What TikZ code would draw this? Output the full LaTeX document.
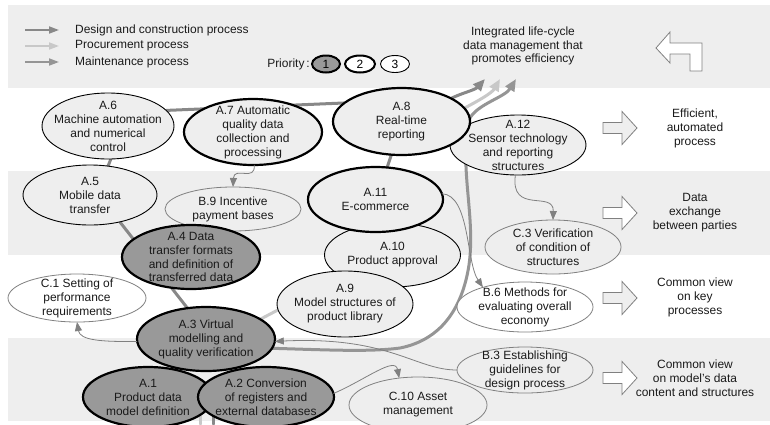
\documentclass[tikz,border=0pt]{standalone}
\usepackage{fontspec}
\setmainfont{Liberation Sans}
\usetikzlibrary{shapes.geometric,arrows.meta}
\pgfdeclarelayer{bands}
\pgfdeclarelayer{lines}
\pgfsetlayers{bands,lines,main}
\definecolor{band}{HTML}{EEEEEE}
\definecolor{pone}{HTML}{999999}
\definecolor{cdes}{HTML}{888888}
\definecolor{cpro}{HTML}{C8C8C8}
\definecolor{cmai}{HTML}{959595}
\definecolor{thinc}{HTML}{808080}
\definecolor{txtc}{HTML}{1A1A1A}
\tikzset{
  bubble/.style={ellipse, inner sep=0pt, outer sep=0pt},
  pr1/.style={bubble, draw=black, line width=2.2bp, fill=pone},
  pr2/.style={bubble, draw=black, line width=2.2bp, fill=band},
  pr3/.style={bubble, draw=black, line width=0.9bp, fill=band},
  bsub/.style={bubble, draw=thinc, line width=0.8bp, fill=band},
  bsubw/.style={bubble, draw=thinc, line width=0.8bp, fill=white},
  txt/.style={inner sep=0pt, align=center, text=txtc, font=\fontsize{12}{14}\selectfont},
  flow/.style={line width=3bp, line cap=round},
  flowtip/.style={-{Triangle[length=12bp,width=10bp]}},
  thinarrow/.style={draw=thinc, line width=0.8bp, -{Triangle[length=9bp,width=7bp]}},
  blockarrow/.style={draw=thinc, line width=0.8bp},
  legarrow/.style={line width=1.8bp, -{Triangle[length=10bp,width=7bp]}},
}
\newcommand\mybub[7]{%
  \node[#1, minimum width=#5*2bp, minimum height=#6*2bp] (#2) at (#3,#4) {};
  \node[txt] (#2t) at (#2.center) {#7};}
\newcommand\rblock[2]{%
  \draw[blockarrow, fill=#2] (603,#1-5.5) -- (622,#1-5.5) -- (622,#1-16.5) -- (637,#1)
    -- (622,#1+16.5) -- (622,#1+5.5) -- (603,#1+5.5) -- cycle;}
\begin{document}
\begin{tikzpicture}[x=1bp,y=-1bp]
\useasboundingbox (0,0) rectangle (770,424);
\begin{pgfonlayer}{bands}
  \fill[white] (0,0) rectangle (770,424);
  \fill[band] (8,5) rectangle (770,88);
  \fill[band] (8,171) rectangle (770,255);
  \fill[band] (8,338) rectangle (770,421);
\end{pgfonlayer}

% legend
\coordinate (l1s) at (25,30); \coordinate (l1e) at (59,30);
\coordinate (l2s) at (25,46); \coordinate (l2e) at (59,46);
\coordinate (l3s) at (25,62); \coordinate (l3e) at (59,62);
\draw[legarrow, cdes] (l1s) -- (l1e);
\draw[legarrow, cpro] (l2s) -- (l2e);
\draw[legarrow, cmai] (l3s) -- (l3e);
\node[txt, anchor=west] (lg1) at (75,30) {Design and construction process};
\node[txt, anchor=west] (lg2) at (75,46) {Procurement process};
\node[txt, anchor=west] (lg3) at (75,62) {Maintenance process};
\node[txt, anchor=east] (prio) at (310,64) {Priority\,:};
\node[pr1, line width=2bp, minimum width=28bp, minimum height=17bp, font=\fontsize{12}{14}\selectfont] (p1) at (326,64) {1};
\node[pr2, fill=white, line width=2bp, minimum width=30bp, minimum height=17bp, font=\fontsize{12}{14}\selectfont] (p2) at (360,64) {2};
\node[pr3, fill=white, minimum width=29bp, minimum height=17bp, font=\fontsize{12}{14}\selectfont] (p3) at (395,64) {3};

\node[txt, font=\fontsize{12}{13.5}\selectfont] (goal) at (523,46) {Integrated life-cycle\\data management that\\promotes efficiency};
\draw[blockarrow, fill=white] (656,48) -- (670,32) -- (670,43) -- (702,43) -- (702,71)
  -- (690,71) -- (690,54) -- (670,54) -- (670,63) -- cycle;

% right column
\rblock{128}{band}
\rblock{213}{white}
\rblock{298}{band}
\rblock{378}{white}
\node[txt] (r1) at (695,128) {Efficient,\\automated\\process};
\node[txt] (r2) at (695,213) {Data\\exchange\\between parties};
\node[txt] (r3) at (695,297) {Common view\\on key\\processes};
\node[txt] (r4) at (695,378) {Common view\\on model’s data\\content and structures};

% bubbles
\mybub{pr3}{a6}{108}{126}{66}{33}{A.6\\Machine automation\\and numerical\\control}
\mybub{pr2}{a7}{253}{132}{69}{33}{A.7 Automatic\\quality data\\collection and\\processing}
\mybub{pr3}{a12}{518}{145}{68}{30}{A.12\\Sensor technology\\and reporting\\structures}
\mybub{pr2}{a8}{401.5}{121.5}{68.5}{33.5}{A.8\\Real-time\\reporting}
\mybub{pr3}{a5}{90}{195}{67}{30}{A.5\\Mobile data\\transfer}
\mybub{bsub}{b9}{233}{209}{68}{22}{B.9 Incentive\\payment bases}
\mybub{pr3}{a10}{392.5}{255}{68}{32}{A.10\\Product approval}
\mybub{pr2}{a11}{375.5}{199.5}{67.5}{32.5}{A.11\\E-commerce}
\mybub{pr3}{a9}{345}{304}{68}{33}{A.9\\Model structures of\\product library}
\mybub{pr1}{a4}{191}{257}{69}{32}{A.4 Data\\transfer formats\\and definition of\\transferred data}
\mybub{bsubw}{c1}{77}{298}{69}{24}{C.1 Setting of\\performance\\requirements}
\mybub{pr1}{a3}{206}{339}{69}{32}{A.3 Virtual\\modelling and\\quality verification}
\mybub{pr1}{a1}{148}{397}{65}{30}{A.1\\Product data\\model definition}
\mybub{pr1}{a2}{266}{397}{68}{30}{A.2 Conversion\\of registers and\\external databases}
\mybub{bsub}{c3}{553}{247}{68}{27}{C.3 Verification\\of condition of\\structures}
\mybub{bsubw}{b6}{525}{307}{68}{25}{B.6 Methods for\\evaluating overall\\economy}
\mybub{bsub}{b3}{525}{370}{68}{23}{B.3 Establishing\\guidelines for\\design process}
\mybub{bsub}{c10}{418}{405}{69}{28}{C.10 Asset\\management}

% thick process lines (behind bubbles)
\coordinate (bl1) at (200,424);
\coordinate (bl2) at (213,424);
\begin{pgfonlayer}{lines}
  \draw[flow, cdes] (a6.15) -- (a8.162);
  \draw[flow, cdes] (a6.-85) -- (a5.58);
  \draw[flow, cdes] (a5.-42) -- (a3.121);
  \draw[flow, cdes] (a8.-107) -- (a11.70);
  \draw[flow, cpro] (a3.20) -- (a9.185);
  \draw[flow, cpro] (bl1) -- (bl1 |- a1.center);
  \draw[flow, cdes] (bl2) -- (bl2 |- a2.center);
  \draw[flow, cmai, flowtip] (a3.-8) .. controls (330,350) and (370,352) .. (400,348)
    .. controls (440,340) and (462,310) .. (469,265)
    .. controls (476,215) and (458,165) .. (470,118)
    .. controls (478,104) and (505,97) .. (516,79);
  \draw[flow, cdes, flowtip] (a8.25) .. controls (462,93) and (475,90) .. (485,79);
  \draw[flow, cpro, flowtip] (a8.12) .. controls (478,101) and (492,93) .. (500,79);
\end{pgfonlayer}

% thin dependency arrows
\draw[thinarrow] (a7.-88) .. controls (256,182) and (234,166) .. (b9.north);
\draw[thinarrow] (a12.-95) .. controls (510,215) and (554,190) .. (c3.north);
\draw[thinarrow] (a11.5) .. controls (470,195) and (466,262) .. (b6.155);
\draw[thinarrow] (a3.182) .. controls (100,342) and (80,340) .. (c1.south);
\draw[thinarrow] (b3.west) .. controls (415,370) and (390,336) .. (a3.-2);
\draw[thinarrow] (a2.3) .. controls (365,380) and (395,356) .. (c10.125);
\end{tikzpicture}
\end{document}
